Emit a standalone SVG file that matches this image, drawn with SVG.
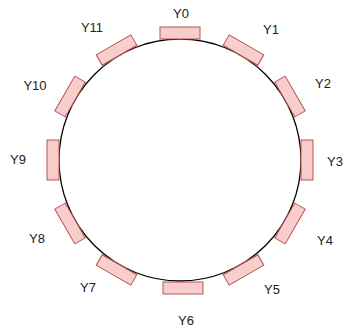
<svg xmlns="http://www.w3.org/2000/svg" width="346" height="328" viewBox="0 0 346 328">
<style>
.slot{fill:#f8cecc;stroke:#b85450;stroke-width:1}
.lbl{font-family:"Liberation Sans",Arial,sans-serif;font-size:13px;fill:#222;text-anchor:middle}
</style>
<rect width="346" height="328" fill="#ffffff"/>
<g id="ring">
<circle cx="180" cy="160" r="121" fill="#ffffff" stroke="#000000" stroke-width="1.3"/>
</g>
<g id="connectors"></g>
<g id="Y0"><rect class="slot" x="160" y="27" width="40" height="12" transform="rotate(0 180 160)"/><text class="lbl" x="181" y="18">Y0</text></g>
<g id="Y1"><rect class="slot" x="160" y="27" width="40" height="12" transform="rotate(30 180 160)"/><text class="lbl" x="271" y="34">Y1</text></g>
<g id="Y2"><rect class="slot" x="160" y="27" width="40" height="12" transform="rotate(60 180 160)"/><text class="lbl" x="323" y="88">Y2</text></g>
<g id="Y3"><rect class="slot" x="160" y="27" width="40" height="12" transform="rotate(90 180 160)"/><text class="lbl" x="335" y="166">Y3</text></g>
<g id="Y4"><rect class="slot" x="160" y="27" width="40" height="12" transform="rotate(120 180 160)"/><text class="lbl" x="325" y="245">Y4</text></g>
<g id="Y5"><rect class="slot" x="160" y="27" width="40" height="12" transform="rotate(150 180 160)"/><text class="lbl" x="272" y="294">Y5</text></g>
<g id="Y6"><rect class="slot" x="160" y="27" width="40" height="12" transform="translate(3 1) rotate(180 180 160)"/><text class="lbl" x="186" y="325">Y6</text></g>
<g id="Y7"><rect class="slot" x="160" y="27" width="40" height="12" transform="rotate(210 180 160)"/><text class="lbl" x="88" y="292">Y7</text></g>
<g id="Y8"><rect class="slot" x="160" y="27" width="40" height="12" transform="rotate(240 180 160)"/><text class="lbl" x="37" y="243">Y8</text></g>
<g id="Y9"><rect class="slot" x="160" y="27" width="40" height="12" transform="rotate(270 180 160)"/><text class="lbl" x="18" y="164">Y9</text></g>
<g id="Y10"><rect class="slot" x="160" y="27" width="40" height="12" transform="rotate(300 180 160)"/><text class="lbl" x="35" y="90">Y10</text></g>
<g id="Y11"><rect class="slot" x="160" y="27" width="40" height="12" transform="rotate(330 180 160)"/><text class="lbl" x="92" y="32">Y11</text></g>
</svg>
